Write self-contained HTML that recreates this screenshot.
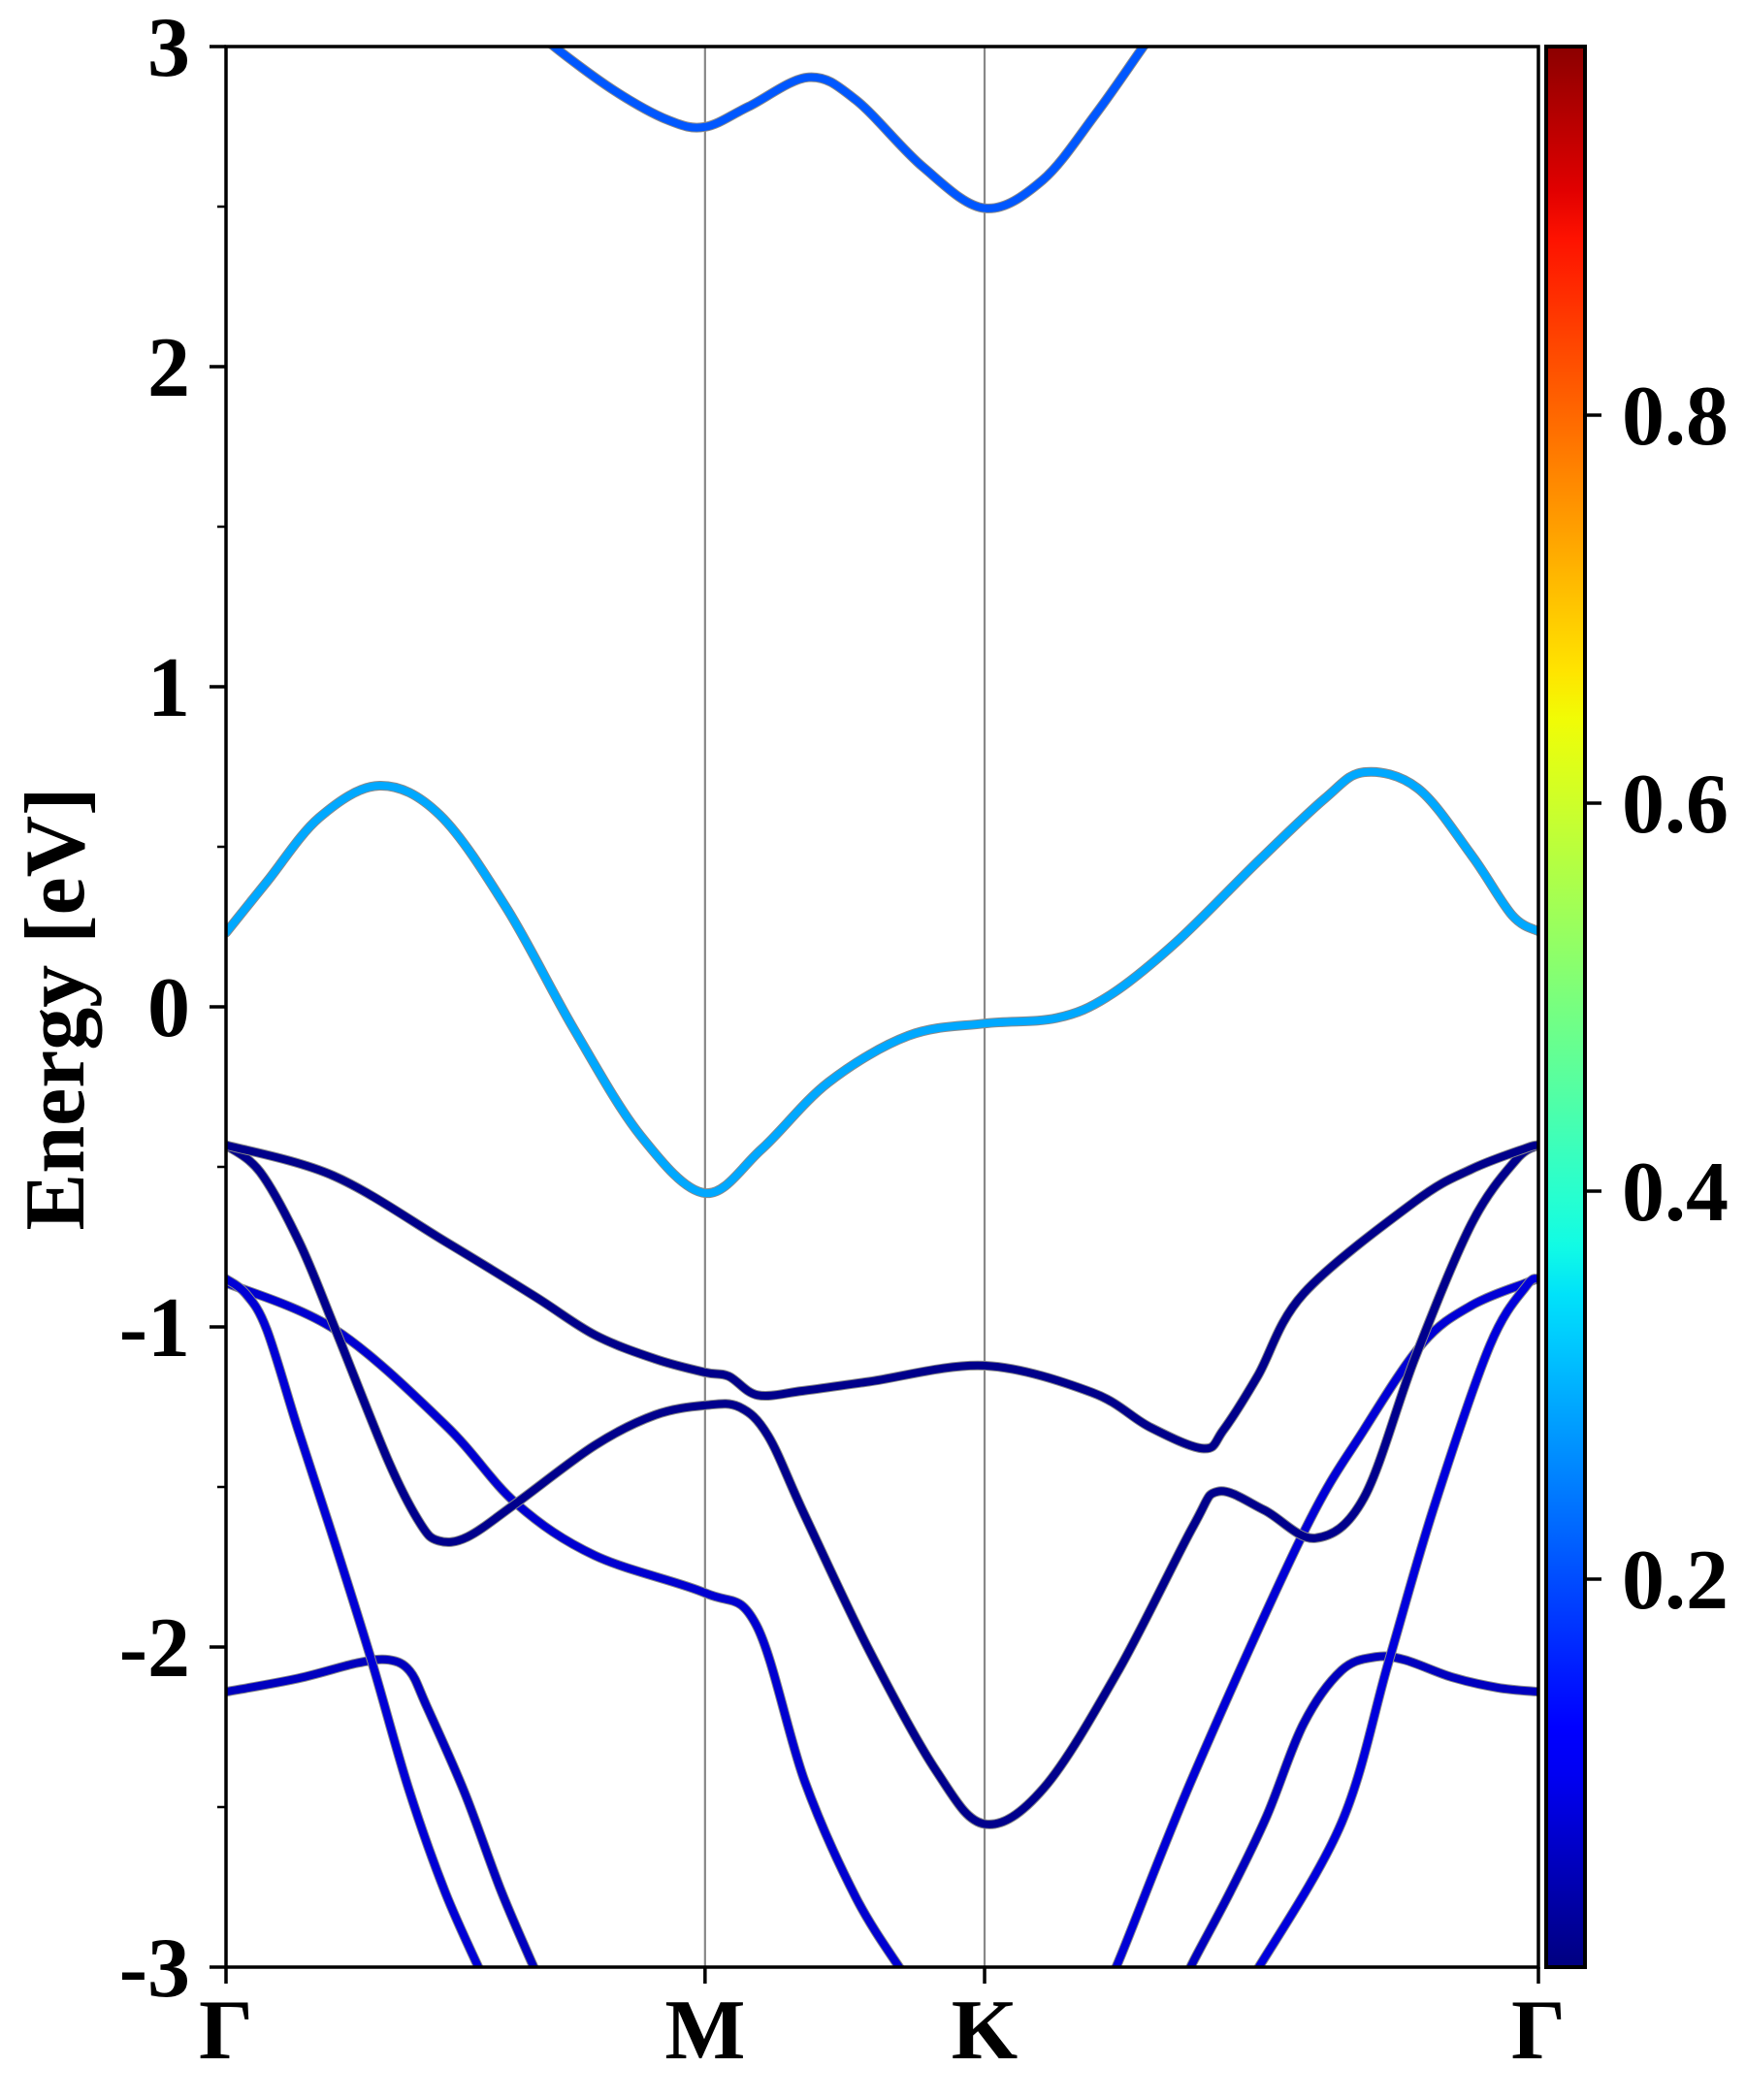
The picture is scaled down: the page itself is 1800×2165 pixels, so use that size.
<!DOCTYPE html>
<html><head><meta charset="utf-8">
<style>
html,body{margin:0;padding:0;background:#fff;}
svg text{font-family:"Liberation Serif",serif;font-weight:bold;fill:#000;}
</style></head>
<body>
<svg id="chart" width="1800" height="2160" viewBox="0 0 1800 2160" xmlns="http://www.w3.org/2000/svg">
<defs>
<clipPath id="plotclip"><rect x="233" y="48" width="1353" height="1980"/></clipPath>
<linearGradient id="jetgrad" x1="0" y1="1" x2="0" y2="0"></linearGradient>
</defs>
<g id="vlines"></g>
<g id="bands" clip-path="url(#plotclip)"></g>
<rect x="233" y="48" width="1353" height="1980" fill="none" stroke="#000" stroke-width="3.5"/>
<g id="axes"></g>
<text transform="translate(86,1040) rotate(-90)" text-anchor="middle" font-size="88">Energy [eV]</text>
<rect x="1594" y="48" width="40" height="1980" fill="url(#jetgrad)" stroke="#000" stroke-width="4"/>
<g id="cbaxis"></g>
</svg>
<script>
// ---- data ----
const kTickLabels = ["Γ","M","K","Γ"];
const kTickPos = [0, 0.365, 0.578, 1];
const eTicks = [-3,-2,-1,0,1,2,3];
const eMinorTicks = [-2.5,-1.5,-0.5,0.5,1.5,2.5];
const cbTicks = [0.2,0.4,0.6,0.8];
const cbMax = 0.99;

const c3K = [0.235,0.25,0.296,0.337,0.365,0.398,0.444,0.48,0.531,0.578,0.622,0.663,0.699,0.712];
const c3E = [3.063,3.0,2.862,2.770,2.749,2.812,2.904,2.833,2.624,2.495,2.582,2.791,3.0,3.071];
const c2K = [0,0.031,0.071,0.117,0.163,0.214,0.265,0.316,0.365,0.408,0.459,0.52,0.578,0.633,0.673,0.724,0.786,0.837,0.867,0.908,0.949,0.98,1];
const c2E = [0.232,0.390,0.591,0.691,0.599,0.307,-0.069,-0.403,-0.582,-0.445,-0.236,-0.090,-0.052,-0.035,0.035,0.202,0.453,0.650,0.733,0.683,0.474,0.286,0.236];
const v1K = [0,0.082,0.167,0.235,0.281,0.327,0.365,0.383,0.405,0.439,0.49,0.578,0.66,0.704,0.745,0.76,0.786,0.821,0.906,0.949,0.991,1];
const v1E = [-0.432,-0.528,-0.733,-0.904,-1.025,-1.100,-1.142,-1.154,-1.213,-1.200,-1.171,-1.121,-1.205,-1.313,-1.380,-1.322,-1.154,-0.896,-0.608,-0.507,-0.441,-0.432];
const v2K = [0,0.026,0.056,0.083,0.124,0.148,0.162,0.184,0.221,0.281,0.327,0.365,0.391,0.413,0.441,0.49,0.541,0.578,0.623,0.68,0.737,0.756,0.791,0.83,0.867,0.906,0.949,0.983,1];
const v2E = [-0.432,-0.516,-0.737,-1.004,-1.422,-1.614,-1.668,-1.656,-1.551,-1.370,-1.275,-1.245,-1.250,-1.340,-1.589,-2.010,-2.386,-2.553,-2.441,-2.073,-1.622,-1.514,-1.572,-1.660,-1.534,-1.096,-0.678,-0.478,-0.432];
const v3aK = [0,0.083,0.167,0.221,0.281,0.365,0.404,0.441,0.48,0.515];
const v3aE = [-0.862,-1.008,-1.306,-1.551,-1.714,-1.831,-1.931,-2.420,-2.783,-3.013];
const v3bK = [0.668,0.68,0.737,0.821,0.867,0.912,0.949,0.991,1];
const v3bE = [-3.075,-2.983,-2.403,-1.643,-1.322,-1.050,-0.933,-0.862,-0.850];
const v4K = [0,0.015,0.031,0.055,0.083,0.111,0.139,0.167,0.196];
const v4E = [-0.850,-0.896,-1.008,-1.322,-1.676,-2.044,-2.441,-2.766,-3.033];
const v5aK = [0,0.055,0.1,0.124,0.14,0.153,0.182,0.21,0.238];
const v5aE = [-2.140,-2.098,-2.050,-2.040,-2.075,-2.186,-2.457,-2.766,-3.033];
const v5bK = [0.724,0.737,0.765,0.793,0.821,0.85,0.876,0.898,0.934,0.969,1];
const v5bE = [-3.096,-2.983,-2.766,-2.528,-2.240,-2.073,-2.031,-2.040,-2.094,-2.127,-2.140];
const v6K = [0.776,0.787,0.85,0.886,0.92,0.963,0.991,1];
const v6E = [-3.054,-3.0,-2.549,-2.044,-1.568,-1.058,-0.871,-0.850];
const bandValues = {c3:0.21,c2:0.29,v1:0.01,v2:0.012,v3a:0.07,v3b:0.075,v4:0.075,v5a:0.055,v5b:0.055,v6:0.08};

// ---- scales ----
const X = k => 233 + k*1353;
const Y = e => 48 + (3-e)*330;
const CBY = v => 2028 - v/cbMax*1980;
function jet(v){
  const interp=(pts,x)=>{for(let i=1;i<pts.length;i++){if(x<=pts[i][0]){const a=pts[i-1],b=pts[i];return a[1]+(b[1]-a[1])*(x-a[0])/(b[0]-a[0]);}}return pts[pts.length-1][1];};
  const r=interp([[0,0],[0.35,0],[0.66,1],[0.89,1],[1,0.5]],v);
  const g=interp([[0,0],[0.125,0],[0.375,1],[0.64,1],[0.91,0],[1,0]],v);
  const b=interp([[0,0.5],[0.11,1],[0.34,1],[0.65,0],[1,0]],v);
  const h=x=>Math.round(Math.max(0,Math.min(1,x))*255).toString(16).padStart(2,'0');
  return '#'+h(r)+h(g)+h(b);
}
const NS="http://www.w3.org/2000/svg";
function mk(tag,attrs,parent){const el=document.createElementNS(NS,tag);for(const a in attrs)el.setAttribute(a,attrs[a]);parent.appendChild(el);return el;}
function smoothPath(ks,es){
  const p=ks.map((k,i)=>[X(k),Y(es[i])]);
  let d=`M${p[0][0]},${p[0][1]}`;
  for(let i=0;i<p.length-1;i++){
    const p0=p[Math.max(0,i-1)],p1=p[i],p2=p[i+1],p3=p[Math.min(p.length-1,i+2)];
    const c1=[p1[0]+(p2[0]-p0[0])/6,p1[1]+(p2[1]-p0[1])/6];
    const c2=[p2[0]-(p3[0]-p1[0])/6,p2[1]-(p3[1]-p1[1])/6];
    d+=` C${c1[0]},${c1[1]} ${c2[0]},${c2[1]} ${p2[0]},${p2[1]}`;
  }
  return d;
}
const grad=document.getElementById('jetgrad');
for(let i=0;i<=40;i++){mk('stop',{offset:(i/40),'stop-color':jet(i/40*cbMax)},grad);}
const vl=document.getElementById('vlines');
[1,2].forEach(i=>{
  const l=mk('line',{x1:X(kTickPos[i]),x2:X(kTickPos[i]),y1:48,y2:2028,stroke:'#888',"stroke-width":2.2},vl);
  
  
});
const bg=document.getElementById('bands');
const bandList=[['c3',c3K,c3E],['c2',c2K,c2E],['v5a',v5aK,v5aE],['v5b',v5bK,v5bE],['v3a',v3aK,v3aE],['v3b',v3bK,v3bE],['v4',v4K,v4E],['v6',v6K,v6E],['v2',v2K,v2E],['v1',v1K,v1E]];
bandList.forEach(([name,ks,es])=>{
  const d=smoothPath(ks,es);
  const o=mk('path',{d:d,fill:'none',stroke:'#8a8a8a','stroke-width':10,'stroke-linecap':'round'},bg);
  
  
  const p=mk('path',{d:d,fill:'none',stroke:jet(bandValues[name]),'stroke-width':8,'stroke-linecap':'round'},bg);
  
  
});
const ax=document.getElementById('axes');
eTicks.forEach(e=>{
  const t=mk('line',{x1:216,x2:233,y1:Y(e),y2:Y(e),stroke:'#000','stroke-width':3.5},ax);
  
  
  const tx=mk('text',{x:196,y:Y(e)+30,'text-anchor':'end','font-size':88},ax);
  tx.textContent=String(e);
  
  
});
eMinorTicks.forEach(e=>{
  const t=mk('line',{x1:224,x2:233,y1:Y(e),y2:Y(e),stroke:'#000','stroke-width':2.5},ax);
  
  
});
kTickPos.forEach((k,i)=>{
  const t=mk('line',{x1:X(k),x2:X(k),y1:2028,y2:2045,stroke:'#000','stroke-width':3.5},ax);
  
  
  const tx=mk('text',{x:X(k),y:2122,'text-anchor':'middle','font-size':88},ax);
  tx.textContent=kTickLabels[i];
  
  
});
const cb=document.getElementById('cbaxis');
cbTicks.forEach(v=>{
  const t=mk('line',{x1:1634,x2:1651,y1:CBY(v),y2:CBY(v),stroke:'#000','stroke-width':3.5},cb);
  
  
  const tx=mk('text',{x:1672,y:CBY(v)+30,'text-anchor':'start','font-size':88},cb);
  tx.textContent=v.toFixed(1);
  
  
});
</script>
</body></html>
